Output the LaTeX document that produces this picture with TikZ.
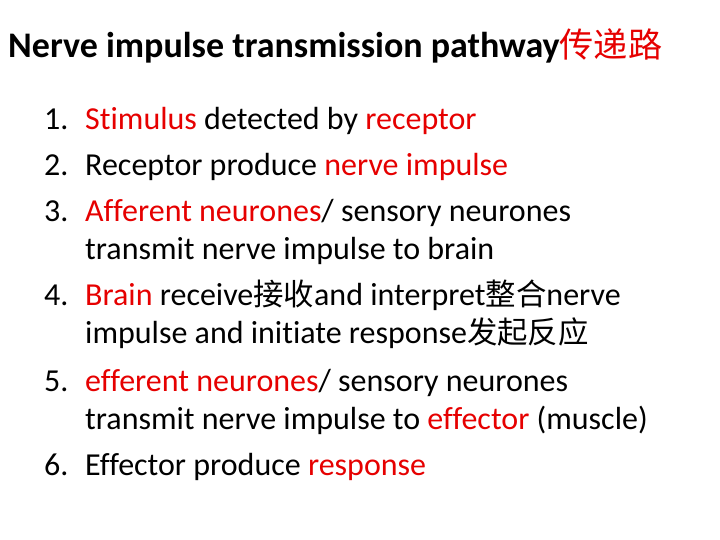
\documentclass[tikz,border=0pt]{standalone}
\usepackage{fontspec}
\setmainfont[Ligatures={NoCommon}]{Carlito}
\newfontfamily\cjk{Noto Sans CJK SC}[Scale=0.95]
\definecolor{myred}{RGB}{230,0,0}
\newcommand{\R}[1]{\textcolor{myred}{#1}}
\begin{document}
\begin{tikzpicture}[x=1pt,y=1pt,
  ln/.style={anchor=base west,inner sep=0pt,font=\fontsize{32}{34}\selectfont},
  ttl/.style={anchor=base west,inner sep=0pt,font=\fontsize{36}{38}\selectfont\bfseries}]
\useasboundingbox (0,0) rectangle (720,540);
\fill[white] (0,0) rectangle (720,540);
\node[ttl] (t) at (8,482) {Nerve impulse transmission pathway\R{\cjk\mdseries 传递路}};
\node[ln] (n1) at (44,410) {1.};
\node[ln] (l1) at (85,410) {\R{Stimulus} detected by \R{receptor}};
\node[ln] (n2) at (44,364) {2.};
\node[ln] (l2) at (85,364) {Receptor produce \R{nerve impulse}};
\node[ln] (n3) at (44,318) {3.};
\node[ln] (l3) at (85,318) {\R{Afferent neurones}/ sensory neurones};
\node[ln] (l3b) at (85,280) {transmit nerve impulse to brain};
\node[ln] (n4) at (44,234) {4.};
\node[ln] (l4) at (85,234) {\R{Brain} receive{\cjk 接收}and interpret{\cjk 整合}nerve};
\node[ln] (l4b) at (85,196) {impulse and initiate response{\cjk 发起反应}};
\node[ln] (n5) at (44,148) {5.};
\node[ln] (l5) at (85,148) {\R{efferent neurones}/ sensory neurones};
\node[ln] (l5b) at (85,110) {transmit nerve impulse to \R{effector} (muscle)};
\node[ln] (n6) at (44,64) {6.};
\node[ln] (l6) at (85,64) {Effector produce \R{response}};
\end{tikzpicture}
\end{document}
